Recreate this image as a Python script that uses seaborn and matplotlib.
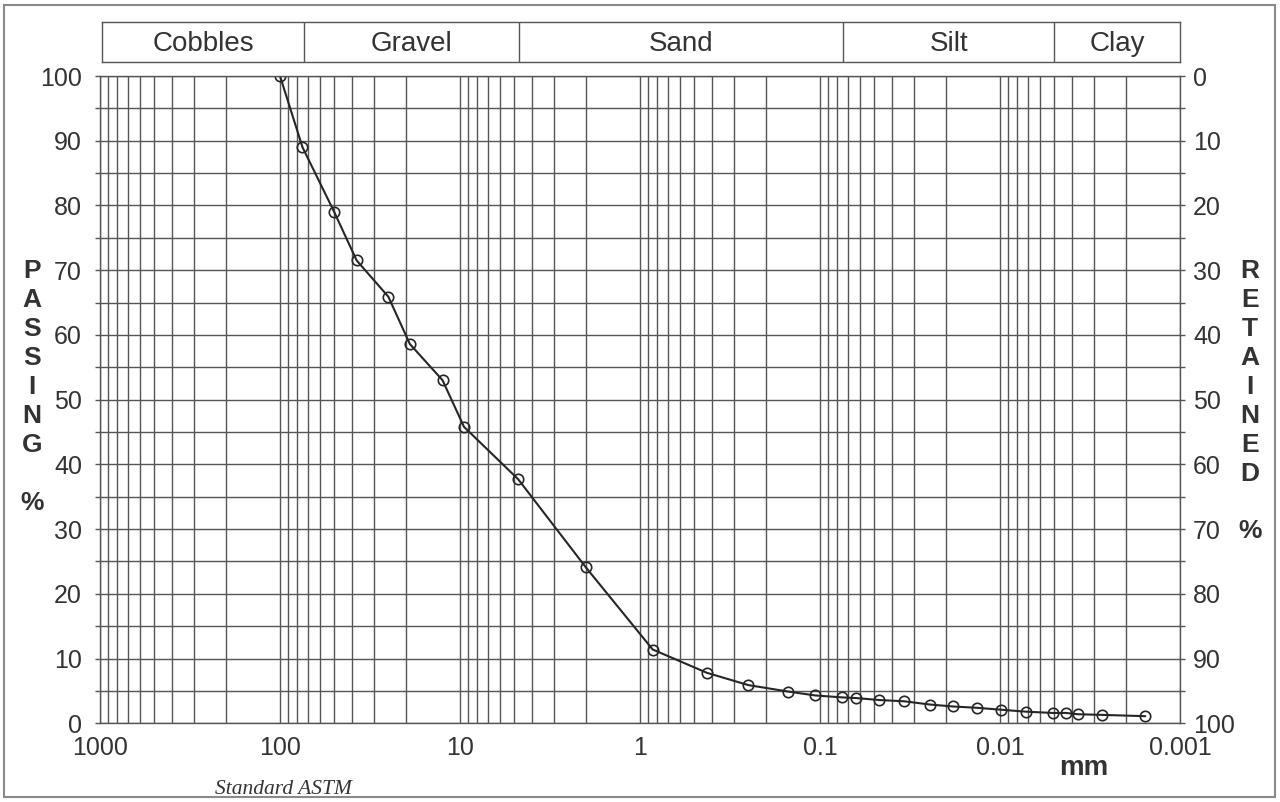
import matplotlib

matplotlib.use("agg")

import numpy as np
import pandas as pd
import matplotlib.pyplot as plt
import seaborn as sns
from matplotlib.ticker import FixedLocator, FuncFormatter, LogLocator, NullFormatter
from matplotlib.patches import Rectangle

# Grain size distribution (mm, % passing)
grain_size_mm = [100, 75, 50, 37.5, 25, 19, 12.5, 9.5, 4.75, 2.0, 0.85, 0.425,
                 0.25, 0.15, 0.106, 0.075, 0.063, 0.047, 0.034, 0.0245, 0.0183,
                 0.0135, 0.0099, 0.0072, 0.0051, 0.0043, 0.0037, 0.0027, 0.00156]
percent_passing = [100, 89.0, 79.0, 71.5, 65.9, 58.6, 53.0, 45.8, 37.7, 24.1,
                   11.4, 7.8, 5.9, 4.9, 4.3, 4.0, 3.9, 3.6, 3.4, 2.9, 2.6, 2.4,
                   2.1, 1.8, 1.6, 1.6, 1.4, 1.3, 1.1]

# Soil classes (ASTM) and their boundaries in mm
soil_classes = ["Cobbles", "Gravel", "Sand", "Silt", "Clay"]
class_bounds = [1000, 75, 4.75, 0.075, 0.005, 0.001]

x_tick_values = [1000, 100, 10, 1, 0.1, 0.01, 0.001]
y_tick_values = [0, 10, 20, 30, 40, 50, 60, 70, 80, 90, 100]

df = pd.DataFrame({"size": grain_size_mm, "passing": percent_passing})

sns.set_style("white")
plt.rcParams["font.family"] = ["Liberation Sans", "DejaVu Sans"]

grid_color = "#555555"
text_color = "#333333"

fig = plt.figure(figsize=(12.8, 8.02), dpi=100)
ax = fig.add_axes([100 / 1280, 78.7 / 802, 1080 / 1280, 647.3 / 802])

sns.lineplot(data=df, x="size", y="passing", ax=ax, sort=False, color="#262626",
             linewidth=1.5, marker="o", markersize=7.5, markerfacecolor="none",
             markeredgecolor="#262626", markeredgewidth=1.2)

ax.set_xscale("log")
ax.set_xlim(1000, 0.001)
ax.set_ylim(0, 100)

ax.xaxis.set_major_locator(FixedLocator(x_tick_values))
ax.xaxis.set_major_formatter(FuncFormatter(lambda v, p: f"{v:g}"))
ax.xaxis.set_minor_locator(LogLocator(base=10, subs=np.arange(2, 10), numticks=20))
ax.xaxis.set_minor_formatter(NullFormatter())
ax.yaxis.set_major_locator(FixedLocator(y_tick_values))
ax.yaxis.set_minor_locator(FixedLocator([v + 5 for v in y_tick_values[:-1]]))

ax.grid(which="both", axis="both", color=grid_color, linewidth=1.0)
ax.tick_params(axis="x", which="both", length=5, width=1.0, color=grid_color,
               labelsize=18, labelcolor=text_color, pad=4.5)
ax.tick_params(axis="y", which="both", length=3.6, width=1.0, color=grid_color,
               labelsize=18, labelcolor=text_color, pad=9.4)
for s in ax.spines.values():
    s.set_color(grid_color)
    s.set_linewidth(1.0)
ax.set_xlabel("")
ax.set_ylabel("")

# right axis: percent retained
ax2 = ax.twinx()
ax2.set_ylim(100, 0)
ax2.yaxis.set_major_locator(FixedLocator(y_tick_values))
ax2.yaxis.set_minor_locator(FixedLocator([v + 5 for v in y_tick_values[:-1]]))
ax2.tick_params(axis="y", which="both", length=3.6, width=1.0, color=grid_color,
                labelsize=18, labelcolor=text_color, pad=5.8)
for s in ax2.spines.values():
    s.set_visible(False)

# header band with soil classes
axh = fig.add_axes([102 / 1280, 740 / 802, 1078 / 1280, 40 / 802])
axh.set_xscale("log")
axh.set_xlim(1000, 0.001)
axh.set_ylim(0, 1)
axh.set_xticks([])
axh.set_yticks([])
axh.minorticks_off()
for s in axh.spines.values():
    s.set_color(grid_color)
    s.set_linewidth(1.0)
for b in class_bounds[1:-1]:
    axh.axvline(b, color=grid_color, linewidth=1.0)
for name, hi, lo in zip(soil_classes, class_bounds[:-1], class_bounds[1:]):
    axh.text(np.sqrt(hi * lo), 0.45, name, ha="center", va="center",
             fontsize=20, color=text_color)

# side labels
fig.text(32 / 1280, 1 - 259 / 802, "P\nA\nS\nS\nI\nN\nG\n\n%", ha="center",
         va="top", fontsize=19, fontweight="bold", color=text_color,
         linespacing=1.26)
fig.text(1250 / 1280, 1 - 259 / 802, "R\nE\nT\nA\nI\nN\nE\nD\n\n%", ha="center",
         va="top", fontsize=19, fontweight="bold", color=text_color,
         linespacing=1.26)

fig.text(1084 / 1280, 1 - 768 / 802, "mm", ha="center", va="center",
         fontsize=20, fontweight="bold", color=text_color)
fig.text(283 / 1280, 1 - 789 / 802, "Standard ASTM", ha="center", va="center",
         fontsize=15.5, style="italic", color=text_color,
         family=["Liberation Serif", "DejaVu Serif"])

# outer frame
fig.patches.append(Rectangle((4 / 1280, 5 / 802), 1271 / 1280, 792 / 802,
                             transform=fig.transFigure, fill=False,
                             edgecolor="#8a8a8a", linewidth=1.5))

fig.savefig("out.png", dpi=100)
